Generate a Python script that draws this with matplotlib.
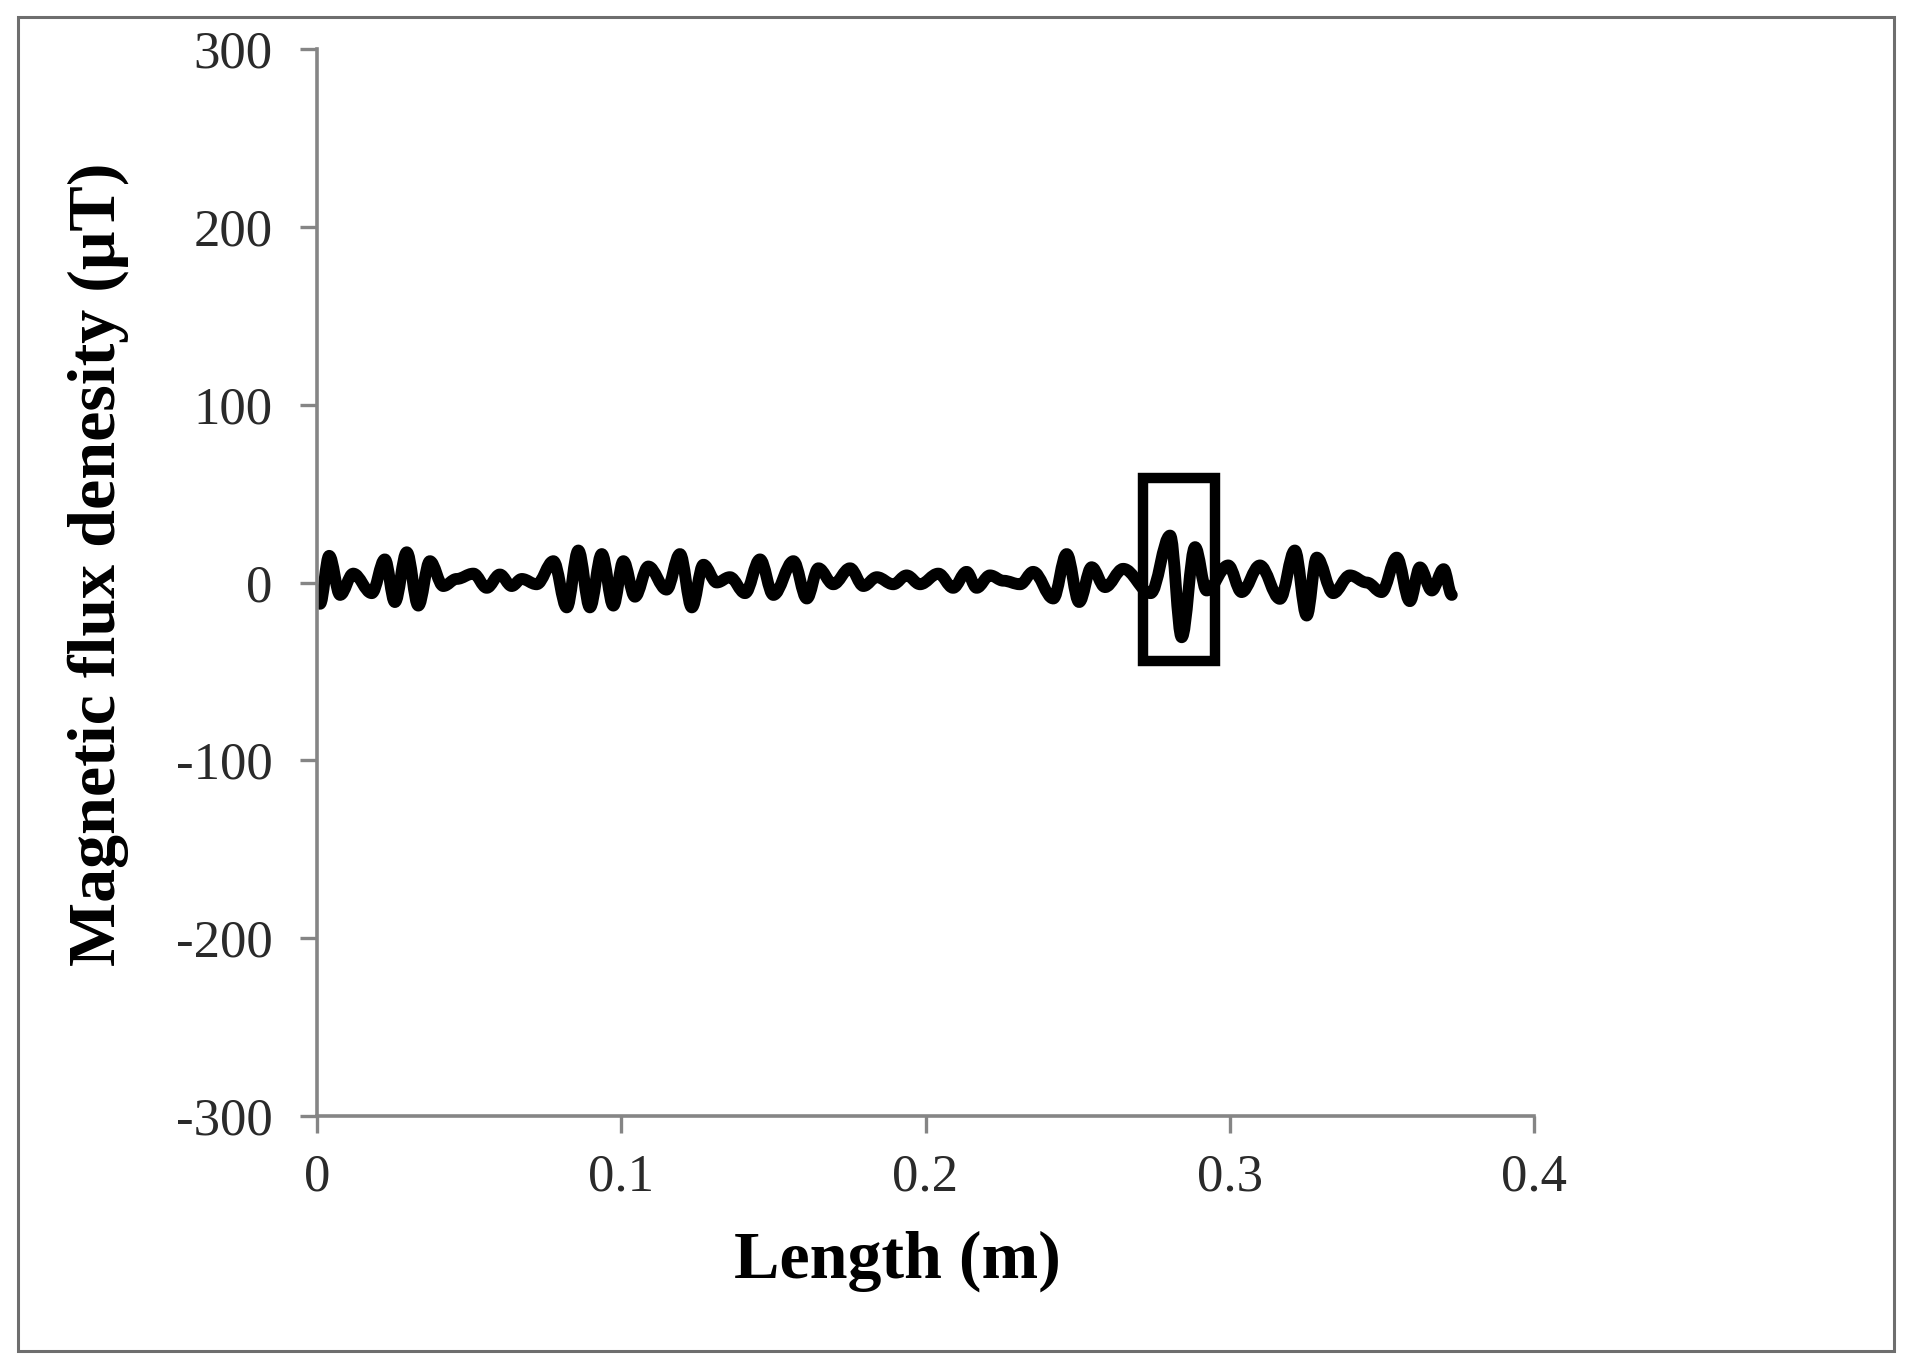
import numpy as np
import matplotlib
matplotlib.use("Agg")
import matplotlib.pyplot as plt
from matplotlib.path import Path
from matplotlib.patches import PathPatch, Rectangle

plt.rcParams['font.family'] = ['Liberation Serif', 'DejaVu Serif']
plt.rcParams['axes.unicode_minus'] = False

# peaks / troughs of the scan
length_m = [0.0010, 0.0040, 0.0076, 0.0119, 0.0180, 0.0223, 0.0256, 0.0295, 0.0333, 0.0371,
            0.0415, 0.0459, 0.0514, 0.0558, 0.0601, 0.0640, 0.0673, 0.0722, 0.0777, 0.0821,
            0.0859, 0.0897, 0.0936, 0.0974, 0.1007, 0.1045, 0.1089, 0.1149, 0.1193, 0.1232,
            0.1270, 0.1314, 0.1357, 0.1407, 0.1456, 0.1500, 0.1566, 0.1610, 0.1648, 0.1697,
            0.1752, 0.1796, 0.1840, 0.1894, 0.1938, 0.1982, 0.2042, 0.2091, 0.2135, 0.2168,
            0.2212, 0.2256, 0.2311, 0.2354, 0.2420, 0.2464, 0.2505, 0.2546, 0.2590, 0.2650,
            0.2740, 0.2804, 0.2842, 0.2886, 0.2924, 0.2995, 0.3039, 0.3099, 0.3165, 0.3214,
            0.3253, 0.3286, 0.3340, 0.3395, 0.3450, 0.3499, 0.3549, 0.3592, 0.3625, 0.3664,
            0.3703, 0.3730]
flux_uT = [-12, 15, -7, 5, -6, 13, -11, 17, -13, 12,
           -2, 2, 5, -3, 4.5, -2, 2, -1, 12, -14,
           18, -14, 16, -13, 12, -8, 9, -4, 16, -14,
           10, 0, 3, -6, 13, -7, 12, -9, 8, -1,
           8, -2, 3, -1, 4, -1, 5, -3, 6, -3,
           4, 1, -1, 6, -9, 16, -11, 8.6, -2.6, 7.7,
           -6, 26.4, -30.8, 19.9, -4.5, 9.6, -5.4, 9.6, -9.2, 18,
           -18.6, 14, -6, 4, 0, -5.4, 14, -10.5, 8.5, -4.5,
           7.5, -7]

# highlighted defect window
box_x = [0.2715, 0.2952]
box_y = [-44, 58.5]

x_ticks = [0, 0.1, 0.2, 0.3, 0.4]
x_ticklabels = ['0', '0.1', '0.2', '0.3', '0.4']
y_ticks = [-300, -200, -100, 0, 100, 200, 300]

fig = plt.figure(figsize=(19.12, 13.67), dpi=100)
ax = fig.add_axes([317/1912, 1 - 1116/1367, (1534-317)/1912, (1116-49)/1367])

# smooth curve through the extrema (horizontal tangent at each one)
verts = [(length_m[0], flux_uT[0])]
codes = [Path.MOVETO]
k = 0.3642
for i in range(len(length_m) - 1):
    x0, y0 = length_m[i], flux_uT[i]
    x1, y1 = length_m[i + 1], flux_uT[i + 1]
    dx = x1 - x0
    verts += [(x0 + k*dx, y0), (x1 - k*dx, y1), (x1, y1)]
    codes += [Path.CURVE4, Path.CURVE4, Path.CURVE4]
curve = PathPatch(Path(verts, codes), fill=False, edgecolor='black', lw=8.5,
                  capstyle='round', joinstyle='round')
ax.add_patch(curve)

ax.add_patch(Rectangle((box_x[0], box_y[0]), box_x[1] - box_x[0], box_y[1] - box_y[0],
                       fill=False, edgecolor='black', lw=7.5, joinstyle='miter'))

ax.set_xlim(0, 0.4)
ax.set_ylim(-300, 300)
ax.set_xticks(x_ticks, x_ticklabels)
ax.set_yticks(y_ticks)

for s in ['top', 'right']:
    ax.spines[s].set_visible(False)
for s in ['left', 'bottom']:
    ax.spines[s].set_color('#858585')
    ax.spines[s].set_linewidth(2.6)
ax.tick_params(axis='both', direction='out', length=12, width=2.4, color='#858585',
               labelsize=38, labelcolor='#2a2a2a')
ax.tick_params(axis='x', pad=15)
ax.tick_params(axis='y', pad=20)

ax.set_xlabel('Length (m)', fontsize=49, fontweight='bold')
ax.xaxis.set_label_coords((897.5 - 317)/1217, (1116 - 1278)/1067)
ax.xaxis.label.set_va('baseline')
ax.set_ylabel('Magnetic flux denesity (μT)', fontsize=49, fontweight='bold')
ax.yaxis.set_label_coords((98 - 317)/1217, (1116 - 564)/1067)
ax.yaxis.label.set_va('center')

# outer border of the picture
fig.patches.append(Rectangle((18/1912, 1 - 1351/1367), (1894-18)/1912, (1351-17)/1367,
                             transform=fig.transFigure, fill=False,
                             edgecolor='#6e6e6e', lw=2.2))

fig.savefig('out.png', dpi=100)
